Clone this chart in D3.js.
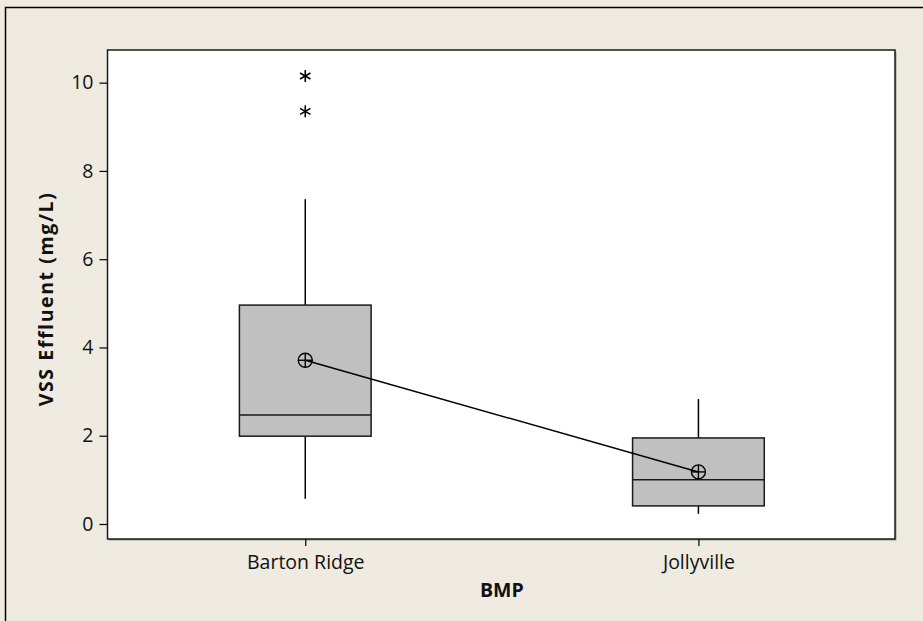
<!DOCTYPE html>
<html>
<head>
<meta charset="utf-8">
<script src="https://cdn.jsdelivr.net/npm/d3@7/dist/d3.min.js"></script>
<style>
  html, body { margin: 0; padding: 0; background: #EFEBE1; }
  svg { display: block; }
</style>
</head>
<body>
<svg id="chart" width="923" height="621"></svg>
<script>
// ---- data ----
const categories = ["Barton Ridge", "Jollyville"];
const q1Values = [1.99, 0.41];
const medianValues = [2.47, 1.00];
const q3Values = [4.96, 1.95];
const whiskerLow = [0.57, 0.23];
const whiskerHigh = [7.36, 2.83];
const meanValues = [3.71, 1.18];
const outliers = [[10.15, 9.35], []];
const yTicks = [0, 2, 4, 6, 8, 10];
const xLabel = "BMP";
const yLabel = "VSS Effluent (mg/L)";

// ---- layout ----
const W = 923, H = 621;
const plot = { left: 107.5, right: 895, top: 50, bottom: 539 };
const font = "'Open Sans', 'Noto Sans', sans-serif";
const fs = 19.5;

const svg = d3.select("#chart");

// background and outer frame
svg.append("rect").attr("x", 0).attr("y", 0).attr("width", W).attr("height", H).attr("fill", "#EFEBE1");
svg.append("rect").attr("x", 5.5).attr("y", 7.5).attr("width", W + 20).attr("height", H + 20)
  .attr("fill", "none").attr("stroke", "#000").attr("stroke-width", 1.5);

const x = d3.scaleLinear().domain([0.497, 2.5]).range([plot.left, plot.right]);
const y = d3.scaleLinear().domain([-0.34, 10.74]).range([plot.bottom, plot.top]);

// plot area
svg.append("rect").attr("x", plot.left + 1.5).attr("y", plot.top + 1.5)
  .attr("width", plot.right - plot.left).attr("height", plot.bottom - plot.top)
  .attr("fill", "#9a9a9a");
svg.append("rect").attr("x", plot.left).attr("y", plot.top)
  .attr("width", plot.right - plot.left).attr("height", plot.bottom - plot.top)
  .attr("fill", "#fff").attr("stroke", "#1a1a1a").attr("stroke-width", 1.5);

// axes
const yAxis = d3.axisLeft(y).tickValues(yTicks).tickSize(8).tickSizeOuter(0).tickPadding(6);
const gy = svg.append("g").attr("transform", `translate(${plot.left},0)`).call(yAxis);
gy.select(".domain").remove();
gy.selectAll("line").attr("stroke", "#000").attr("stroke-width", 1.2);
gy.selectAll("text").attr("font-family", font).attr("font-size", fs).attr("fill", "#111");

const xAxis = d3.axisBottom(x).tickValues([1, 2]).tickFormat(d => categories[d - 1])
  .tickSize(7).tickSizeOuter(0).tickPadding(9);
const gx = svg.append("g").attr("transform", `translate(0,${plot.bottom})`).call(xAxis);
gx.select(".domain").remove();
gx.selectAll("line").attr("stroke", "#000").attr("stroke-width", 1.2);
gx.selectAll("text").attr("font-family", font).attr("font-size", fs).attr("fill", "#111");

// axis titles
svg.append("text").attr("x", x(1.5)).attr("y", 597).attr("text-anchor", "middle")
  .attr("font-family", font).attr("font-weight", "bold").attr("font-size", fs).attr("fill", "#111")
  .text(xLabel);
svg.append("text").attr("transform", `translate(53,299) rotate(-90)`)
  .attr("text-anchor", "middle")
  .attr("font-family", font).attr("font-weight", "bold").attr("font-size", fs)
  .attr("letter-spacing", 1.6).attr("fill", "#111")
  .text(yLabel);

// boxes
const boxHalf = 0.1675;
const g = svg.append("g");
categories.forEach((c, i) => {
  const cx = x(i + 1);
  // whiskers
  g.append("line").attr("x1", cx).attr("x2", cx).attr("y1", y(whiskerHigh[i])).attr("y2", y(q3Values[i]))
    .attr("stroke", "#000").attr("stroke-width", 1.5);
  g.append("line").attr("x1", cx).attr("x2", cx).attr("y1", y(q1Values[i])).attr("y2", y(whiskerLow[i]))
    .attr("stroke", "#000").attr("stroke-width", 1.5);
  // box
  g.append("rect").attr("x", x(i + 1 - boxHalf)).attr("y", y(q3Values[i]))
    .attr("width", x(i + 1 + boxHalf) - x(i + 1 - boxHalf))
    .attr("height", y(q1Values[i]) - y(q3Values[i]))
    .attr("fill", "#C0C0C0").attr("stroke", "#1a1a1a").attr("stroke-width", 1.5);
  // median
  g.append("line").attr("x1", x(i + 1 - boxHalf)).attr("x2", x(i + 1 + boxHalf))
    .attr("y1", y(medianValues[i])).attr("y2", y(medianValues[i]))
    .attr("stroke", "#1a1a1a").attr("stroke-width", 1.5);
  // outliers (asterisks)
  outliers[i].forEach(v => {
    const oy = y(v), r = 6;
    const star = g.append("g").attr("transform", `translate(${cx},${oy})`);
    [90, 30, -30].forEach(a => {
      const rad = a * Math.PI / 180;
      star.append("line").attr("x1", -r * Math.cos(rad)).attr("y1", -r * Math.sin(rad))
        .attr("x2", r * Math.cos(rad)).attr("y2", r * Math.sin(rad))
        .attr("stroke", "#000").attr("stroke-width", 1.6);
    });
  });
});

// mean connect line
const line = d3.line().x((d, i) => x(i + 1)).y(d => y(d));
g.append("path").attr("d", line(meanValues)).attr("fill", "none").attr("stroke", "#000").attr("stroke-width", 1.5);

// mean symbols
meanValues.forEach((m, i) => {
  const cx = x(i + 1), cy = y(m), r = 7;
  const s = g.append("g").attr("transform", `translate(${cx},${cy})`);
  s.append("circle").attr("r", r).attr("fill", "none").attr("stroke", "#000").attr("stroke-width", 1.4);
  s.append("line").attr("x1", -r).attr("x2", r).attr("y1", 0).attr("y2", 0).attr("stroke", "#000").attr("stroke-width", 1.4);
  s.append("line").attr("x1", 0).attr("x2", 0).attr("y1", -r).attr("y2", r).attr("stroke", "#000").attr("stroke-width", 1.4);
});
</script>
</body>
</html>
